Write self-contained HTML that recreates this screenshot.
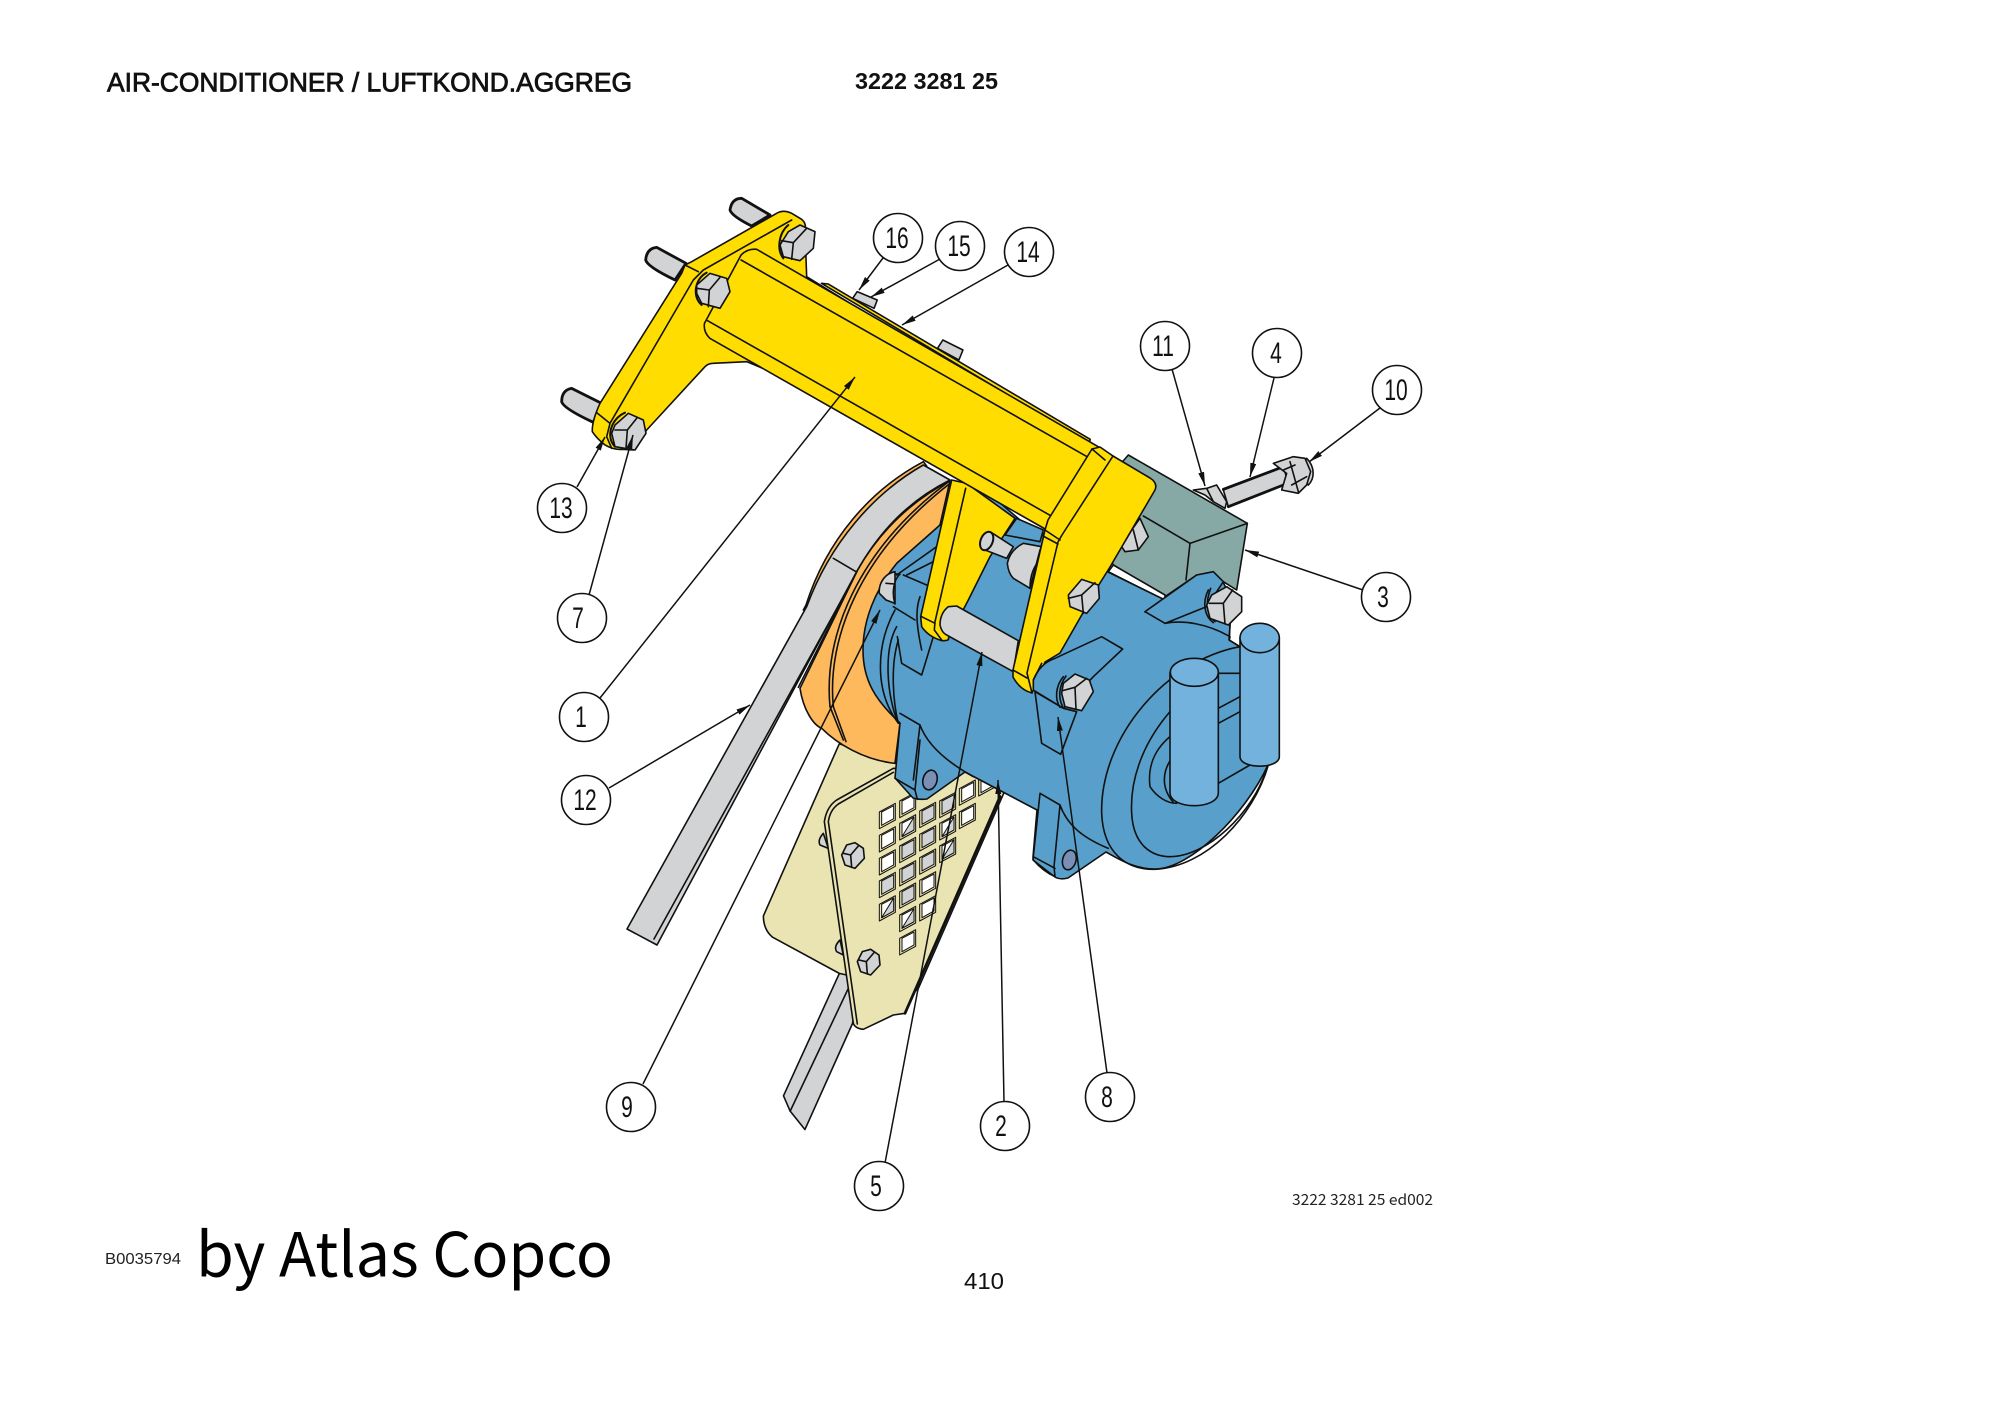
<!DOCTYPE html>
<html><head><meta charset="utf-8"><style>
html,body{margin:0;padding:0;background:#fff}
svg{display:block}
.d *{vector-effect:non-scaling-stroke;stroke:#111;stroke-width:1.6;stroke-linejoin:round;stroke-linecap:round}
.d .n{fill:none}
.d .w1{stroke-width:1}
.d .w2{stroke-width:2}
.d .w3{stroke-width:2.8}
.g{fill:#d1d3d4}.y{fill:#ffdd00}.b{fill:#58a0cb}.o{fill:#fdb95c}.c{fill:#e9e4b2}.t{fill:#87a9a5}.l{fill:#74b2de}.h{fill:#7a8fb5}
.k{font-family:"Liberation Sans",sans-serif;font-size:30px;text-anchor:middle;fill:#111}
.lead line{stroke:#111;stroke-width:1.5;marker-end:url(#a)}
.cir circle{fill:#fff;stroke:#111;stroke-width:1.6}
</style></head><body>
<svg width="2000" height="1415" viewBox="0 0 2000 1415" xmlns="http://www.w3.org/2000/svg">
<defs>
<marker id="a" markerUnits="userSpaceOnUse" markerWidth="15" markerHeight="8" refX="14" refY="3" orient="auto"><path d="M0 0L14 3L0 6Z" fill="#111"/></marker>
</defs>
<g class="d">
<defs>
<g id="hw"><polygon class="c w1" points="-24,-12 24,-38 24,12 -24,38"/><polygon class="w1" fill="#fff" points="-17,-12 19,-31 19,8 -17,28"/></g>
<g id="hg"><polygon class="c w1" points="-24,-12 24,-38 24,12 -24,38"/><polygon class="g w1" points="-17,-12 19,-31 19,8 -17,28"/></g>
<g id="hd"><polygon class="c w1" points="-24,-12 24,-38 24,12 -24,38"/><polygon class="w1" fill="#fff" points="-17,-12 19,-31 19,8 -17,28"/><polygon class="g w1" points="-17,28 19,8 19,-31"/></g>
<g id="pb"><path class="g" d="M-33 -2L-18 -32L7 -39L32 -22L35 8L7 38L-23 28Z"/><path class="n" d="M-28 -7L-6 -2L17 -29M-6 -2L-3 35"/></g>
</defs>

<!-- belt + rim -->
<g transform="translate(780,450) scale(.33333)">
<path class="o" d="M430 35C270 120 140 270 78 465L70 480L84 470C150 280 280 130 440 48Z"/>
<path class="g" d="M430 45C280 130 150 280 80 470L-459 1437L-369 1485L230 365C300 240 390 150 510 90Z"/>
<path class="n" d="M215 395L-378 1467M160 325L228 365"/>
</g>

<!-- lower belt, plates -->
<g transform="translate(500,650) scale(.44643,.3827)">
<path class="g" d="M770 820L800 880L790 975L683 1253L650 1205L635 1165Z"/>
<path class="n" d="M782 880L650 1205"/>
<path class="c" d="M760 245L590 695Q590 730 610 750L760 845L935 890L1130 370L1100 300L890 295Z"/>
</g>
<g transform="translate(780,740) scale(.33333)">
<path class="g" d="M130 280Q112 300 120 315L145 325Z"/>
<path class="g" d="M180 600Q160 620 170 635L190 645Z"/>
<path class="c" d="M340 85L170 180Q140 200 133 245L220 850Q225 865 250 868L340 825L375 820L660 170L640 100Z"/>
<path class="n" d="M340 97L175 192Q150 210 145 245L232 852"/>
<path class="n w3" d="M375 820L660 170"/>
<use href="#hw" x="322" y="228"/><use href="#hw" x="322" y="298"/><use href="#hw" x="322" y="367"/><use href="#hg" x="322" y="435"/><use href="#hd" x="322" y="505"/>
<use href="#hw" x="383" y="195"/><use href="#hd" x="383" y="262"/><use href="#hg" x="383" y="330"/><use href="#hg" x="383" y="400"/><use href="#hg" x="383" y="467"/><use href="#hd" x="383" y="537"/><use href="#hw" x="383" y="607"/>
<use href="#hg" x="443" y="225"/><use href="#hg" x="443" y="295"/><use href="#hg" x="443" y="365"/><use href="#hw" x="443" y="433"/><use href="#hw" x="443" y="505"/>
<use href="#hg" x="503" y="195"/><use href="#hd" x="503" y="262"/><use href="#hd" x="503" y="330"/>
<use href="#hw" x="562" y="158"/><use href="#hw" x="562" y="228"/>
<use href="#hw" x="620" y="130"/>
<use href="#pb" x="218" y="347"/><use href="#pb" x="265" y="667"/>
</g>

<!-- pulley -->
<g transform="translate(780,450) scale(.33333)">
<path class="o" d="M510 92C400 150 300 240 232 362L60 715C70 780 100 825 125 835C170 880 250 930 345 940L360 820L360 350L480 225Z"/>
<path class="n" d="M232 362L55 712"/>
<path class="n" d="M150 770C130 560 230 300 510 92"/>
<path class="n" d="M160 770C140 565 240 310 510 100"/>
<path class="n" d="M150 770L190 870M160 770L198 875"/>
</g>

<!-- teal block, rod -->
<g transform="translate(1050,440) scale(.33333)">
<path class="t" d="M235 45L592 250L560 450L520 425L440 405L345 470L190 375L100 200Z"/>
<path class="n" d="M280 228L420 310L592 250M420 310L408 420"/>
<path class="g" d="M270 235L295 290L265 330L225 335L215 320L245 270Z"/>
<path class="n" d="M250 270L265 330"/>
<path class="g" d="M520 150L700 80L715 130L535 200Z"/>
<path class="n w3" d="M520 148L700 80M535 200L700 135"/>
<path class="g" d="M430 150L470 145L500 135L530 185L525 205L490 185L465 165Z"/>
<path class="n" d="M470 145L490 185"/>
<path class="g" d="M770 55C795 80 795 115 775 135L745 100Z"/>
<path class="g" d="M670 70L730 50L765 55L782 95L770 135L745 160L695 150L710 100Z"/>
<path class="n" d="M720 65L745 155M700 90L735 75M725 135L770 110"/>
<polygon fill="#fff" points="190,375 345,465 345,482 175,395"/>
</g>

<!-- compressor body -->
<path class="b" d="M940 525L985 490L1020 520L1108 572L1165 600L1145 612L1197 575L1213 572L1223 582L1232 600L1230 625L1229 640L1240 647L1270 650L1268 765C1245 815 1190 869 1155 869C1135 869 1120 860 1106 852L1068 878Q1060 880 1055 877L1033 860L1033 857L1037 810L965 772L927 799Q920 800 913 798L895 778L900 723C875 700 863 680 863 650C863 620 875 590 897 563Z"/>

<!-- front disc & cylinders -->
<g transform="translate(1000,640) scale(.33333)">
<path class="n" d="M720 20C500 60 300 290 305 520C310 640 380 690 465 688C620 680 760 530 805 375"/>
<path class="n" d="M510 215C420 320 390 430 395 520C400 620 460 650 510 650C620 650 760 520 800 385"/>
<path class="n" d="M510 290C450 340 445 400 450 440C470 470 500 490 530 490M515 355C490 390 480 440 520 487"/>
<path class="n" d="M655 100H720M655 205L720 170M655 250L720 215M655 430L750 375"/>
<path class="n" d="M120 460L180 495L162 680L165 710M120 460L100 650L165 685M100 650L100 660Q130 695 165 710"/>
<path class="n" d="M180 495C200 550 240 590 325 625"/>
<ellipse class="h" cx="208" cy="660" rx="20" ry="30" transform="rotate(15 208 660)"/>
<path class="l" d="M720 -6V350C720 388 838 388 838 350V-6Z"/>
<ellipse class="l" cx="779" cy="-6" rx="59" ry="44"/>
<path class="l" d="M510 97V458C510 510 655 510 655 458V97Z"/>
<ellipse class="l" cx="583" cy="97" rx="72" ry="42"/>
</g>

<!-- top right ear + nut -->
<g transform="translate(1050,440) scale(.33333)">
<path class="b" d="M285 515L440 405L490 395L520 425L470 500L345 550Z"/>
<path class="n" d="M345 550C400 540 470 550 540 590L538 600L570 620M540 555L538 600"/>
<path class="n" d="M475 450C455 490 465 530 490 548M482 445C465 490 470 525 495 545"/>
<path class="g" d="M485 465L530 440L575 470L575 515L535 555L480 535L470 495Z"/>
<path class="n" d="M478 490L520 490L548 450M520 490L525 552"/>
</g>

<!-- left end details -->
<g transform="translate(780,450) scale(.33333)">
<path class="n" d="M345 480C290 580 280 720 355 820M350 530C310 600 320 740 355 820M355 570C330 650 340 760 355 820"/>
<path class="n" d="M350 375L470 290M380 375L470 330"/>
<path class="n" d="M370 375L440 405M340 470L405 510"/>
<path class="n" d="M420 440C405 480 410 530 425 600"/>
<path class="n" d="M352 560L365 640L425 675L460 560"/>
<path class="g" d="M345 365C315 370 295 400 298 430L318 450L345 460Z"/>
<path class="n" d="M345 372L360 372C340 390 335 430 345 462M318 400L345 402"/>
<path class="n" d="M360 790L420 825L400 990M420 825C440 880 490 930 580 980"/>
</g>

<!-- lower-left foot -->
<g transform="translate(780,740) scale(.33333)">
<path class="n" d="M345 115L405 150L412 178M405 150L420 0"/>
<ellipse class="h" cx="450" cy="120" rx="21" ry="30" transform="rotate(15 450 120)"/>
</g>

<!-- back bracket -->
<g transform="translate(550,190) scale(.33333)">
<path class="g w3" d="M660 75L575 25Q545 25 540 60Q545 78 605 108Z"/>
<path class="g w3" d="M408 220L320 172Q290 175 287 210Q292 230 375 270Z"/>
<path class="g w3" d="M155 640L65 595Q35 600 35 635Q40 655 130 697Z"/>
<path class="y" d="M425 215L680 70Q700 58 725 70L755 88Q770 100 765 120L770 260L900 340L700 560L590 515L490 520Q475 520 465 530L290 720L250 780L215 778Q190 780 165 765Q140 745 127 725Q125 695 150 640L395 250L405 225Z"/>
<path class="n" d="M725 90L460 240L430 270L180 700L170 740L185 775M405 225L445 245M140 668L180 700"/>
</g>
<g transform="translate(500,180) scale(.44643,.33333)">
<path class="g" d="M800 335L845 360L838 385L790 355Z"/>
<path class="g" d="M992 480L1037 510L1028 540L980 505Z"/>
<path class="y" d="M720 310L735 312L1322 778L1320 790Z"/>
</g>

<!-- middle arm & rods -->
<g transform="translate(800,450) scale(.33333)">
<path class="b" d="M615 255L650 205L730 240L720 275Z"/>
<path class="y" d="M455 90L362 500L365 530Q385 560 425 572Q450 572 445 565L505 450L510 440L570 320L645 205L500 100Z"/>
<path class="n" d="M497 115L405 515L403 540L425 570M365 500L405 520"/>
<path class="g" d="M575 248L640 290L620 325L555 300Z"/>
<ellipse class="g w2" cx="560" cy="273" rx="18" ry="29" transform="rotate(22 560 273)"/>
<path class="g" d="M725 290L670 280Q630 300 622 340Q625 370 640 385L690 415L720 300Z"/>
<path class="n" d="M720 330C700 350 690 380 690 415"/>
<path class="g" d="M445 470Q420 490 420 525Q425 548 440 555L640 665L655 572L470 468Z"/>
</g>

<!-- beam -->
<g transform="translate(500,180) scale(.44643,.33333)">
<path class="y" d="M575 208L1340 800L1225 1050L470 475Q455 455 458 430L540 225Q555 205 575 208Z"/>
<path class="n" d="M540 240L1315 830M465 422L1240 1012"/>
</g>

<!-- right arm -->
<path class="y" d="M1092 449L1100 447L1113 456L1150 478Q1158 483 1155 490L1110 567L1100 583L1060 653L1045 662L1032 693Q1020 690 1013 677L1013 670L1045 530L1048 520Z"/>
<path class="n" d="M1113 456L1062 535L1058 542L1027 673L1032 693M1045 530L1060 540M1043 536L1058 544M1013 670L1027 678M1092 449L1105 460"/>

<g transform="translate(800,450) scale(.33333)">
<path class="g" d="M805 435L845 388L895 405L898 445L860 490L810 470Z"/>
<path class="n" d="M805 445L845 435L885 398M845 435L850 490"/>
<path class="b" d="M765 625Q720 640 700 690L700 720L790 775L880 680L968 597L905 560Z"/>
<path class="n" d="M700 690L725 640"/>
<path class="b" d="M705 725L725 880L782 913L830 785L790 775Z"/>
<path class="n" d="M790 680C765 710 765 750 780 772M798 678C775 710 775 745 788 770"/>
<path class="g" d="M790 700L825 672L868 690L880 725L845 782L795 770L785 730Z"/>
<path class="n" d="M788 722L825 712L860 685M825 712L828 778"/>
</g>

<!-- front bolts -->
<g transform="translate(550,190) scale(.33333)">
<path class="n w2" d="M715 105C685 130 680 180 700 205"/>
<path class="g" d="M715 125L750 105L795 125L790 175L750 212L700 200L690 165Z"/>
<path class="n" d="M695 152L730 158L770 115M730 158L725 208"/>
<path class="n w2" d="M470 248C435 265 425 320 455 345"/>
<path class="g" d="M440 285L480 250L530 265L540 305L510 355L455 340L440 310Z"/>
<path class="n" d="M440 295L478 300L510 262M478 300L475 350"/>
<path class="n w2" d="M225 668C185 685 165 740 195 770"/>
<path class="g" d="M195 705L235 670L280 690L288 730L255 780L195 770L185 730Z"/>
<path class="n" d="M195 720L232 720L260 685M232 720L228 775"/>
</g>
</g>

<!-- leaders -->
<g class="lead">
<line x1="883" y1="258" x2="859" y2="290"/>
<line x1="940" y1="259" x2="871" y2="297"/>
<line x1="1008" y1="265" x2="902" y2="325"/>
<line x1="600" y1="698" x2="855" y2="377"/>
<line x1="577" y1="487" x2="605" y2="437"/>
<line x1="589" y1="595" x2="633" y2="435"/>
<line x1="1172" y1="369" x2="1205" y2="486"/>
<line x1="1274" y1="378" x2="1250" y2="477"/>
<line x1="1380" y1="408" x2="1309" y2="462"/>
<line x1="1363" y1="590" x2="1245" y2="550"/>
<line x1="609" y1="788" x2="750" y2="705"/>
<line x1="643" y1="1084" x2="880" y2="610"/>
<line x1="1004" y1="1102" x2="998" y2="780"/>
<line x1="1107" y1="1073" x2="1058" y2="717"/>
<line x1="885" y1="1163" x2="982" y2="652"/>
</g>

<!-- balloons -->
<g class="cir">
<circle cx="898" cy="238" r="24.5"/><circle cx="960" cy="246" r="24.5"/><circle cx="1029" cy="252" r="24.5"/>
<circle cx="1165" cy="346" r="24.5"/><circle cx="1277" cy="353" r="24.5"/><circle cx="1397" cy="390" r="24.5"/>
<circle cx="1386" cy="597" r="24.5"/><circle cx="562" cy="508" r="24.5"/><circle cx="582" cy="618" r="24.5"/>
<circle cx="584" cy="717" r="24.5"/><circle cx="586" cy="800" r="24.5"/><circle cx="631" cy="1107" r="24.5"/>
<circle cx="879" cy="1186" r="24.5"/><circle cx="1005" cy="1126" r="24.5"/><circle cx="1110" cy="1097" r="24.5"/>
</g>
<g>
<text class="k" transform="translate(897,248) scale(.7,1)">16</text>
<text class="k" transform="translate(959,256) scale(.7,1)">15</text>
<text class="k" transform="translate(1028,262) scale(.7,1)">14</text>
<text class="k" transform="translate(1163,356) scale(.7,1)">11</text>
<text class="k" transform="translate(1276,363) scale(.7,1)">4</text>
<text class="k" transform="translate(1396,400) scale(.7,1)">10</text>
<text class="k" transform="translate(1383,607) scale(.7,1)">3</text>
<text class="k" transform="translate(561,518) scale(.7,1)">13</text>
<text class="k" transform="translate(578,628) scale(.7,1)">7</text>
<text class="k" transform="translate(581,727) scale(.7,1)">1</text>
<text class="k" transform="translate(585,810) scale(.7,1)">12</text>
<text class="k" transform="translate(627,1117) scale(.7,1)">9</text>
<text class="k" transform="translate(876,1196) scale(.7,1)">5</text>
<text class="k" transform="translate(1001,1136) scale(.7,1)">2</text>
<text class="k" transform="translate(1107,1107) scale(.7,1)">8</text>
</g>

<!-- page text -->
<text x="107" y="91.5" font-family="Liberation Sans, sans-serif" font-size="27" fill="#111" stroke="#111" stroke-width=".8" textLength="525" lengthAdjust="spacingAndGlyphs">AIR-CONDITIONER / LUFTKOND.AGGREG</text>
<text x="855" y="89" font-family="Liberation Sans, sans-serif" font-weight="bold" font-size="23" fill="#111" textLength="143" lengthAdjust="spacingAndGlyphs">3222 3281 25</text>
<text x="105" y="1264" font-family="Liberation Sans, sans-serif" font-size="15.5" fill="#222" textLength="76" lengthAdjust="spacingAndGlyphs">B0035794</text>
<text x="196" y="1276.5" font-family="'Noto Sans CJK JP', 'Liberation Sans', sans-serif" font-size="61" fill="#000" textLength="417" lengthAdjust="spacingAndGlyphs">by Atlas Copco</text>
<text x="964" y="1289" font-family="Liberation Sans, sans-serif" font-size="23" fill="#111" textLength="40" lengthAdjust="spacingAndGlyphs">410</text>
<text x="1292" y="1205" font-family="'Noto Sans CJK JP', 'Liberation Sans', sans-serif" font-size="15" fill="#222" textLength="141" lengthAdjust="spacingAndGlyphs">3222 3281 25 ed002</text>
</svg>
</body></html>
